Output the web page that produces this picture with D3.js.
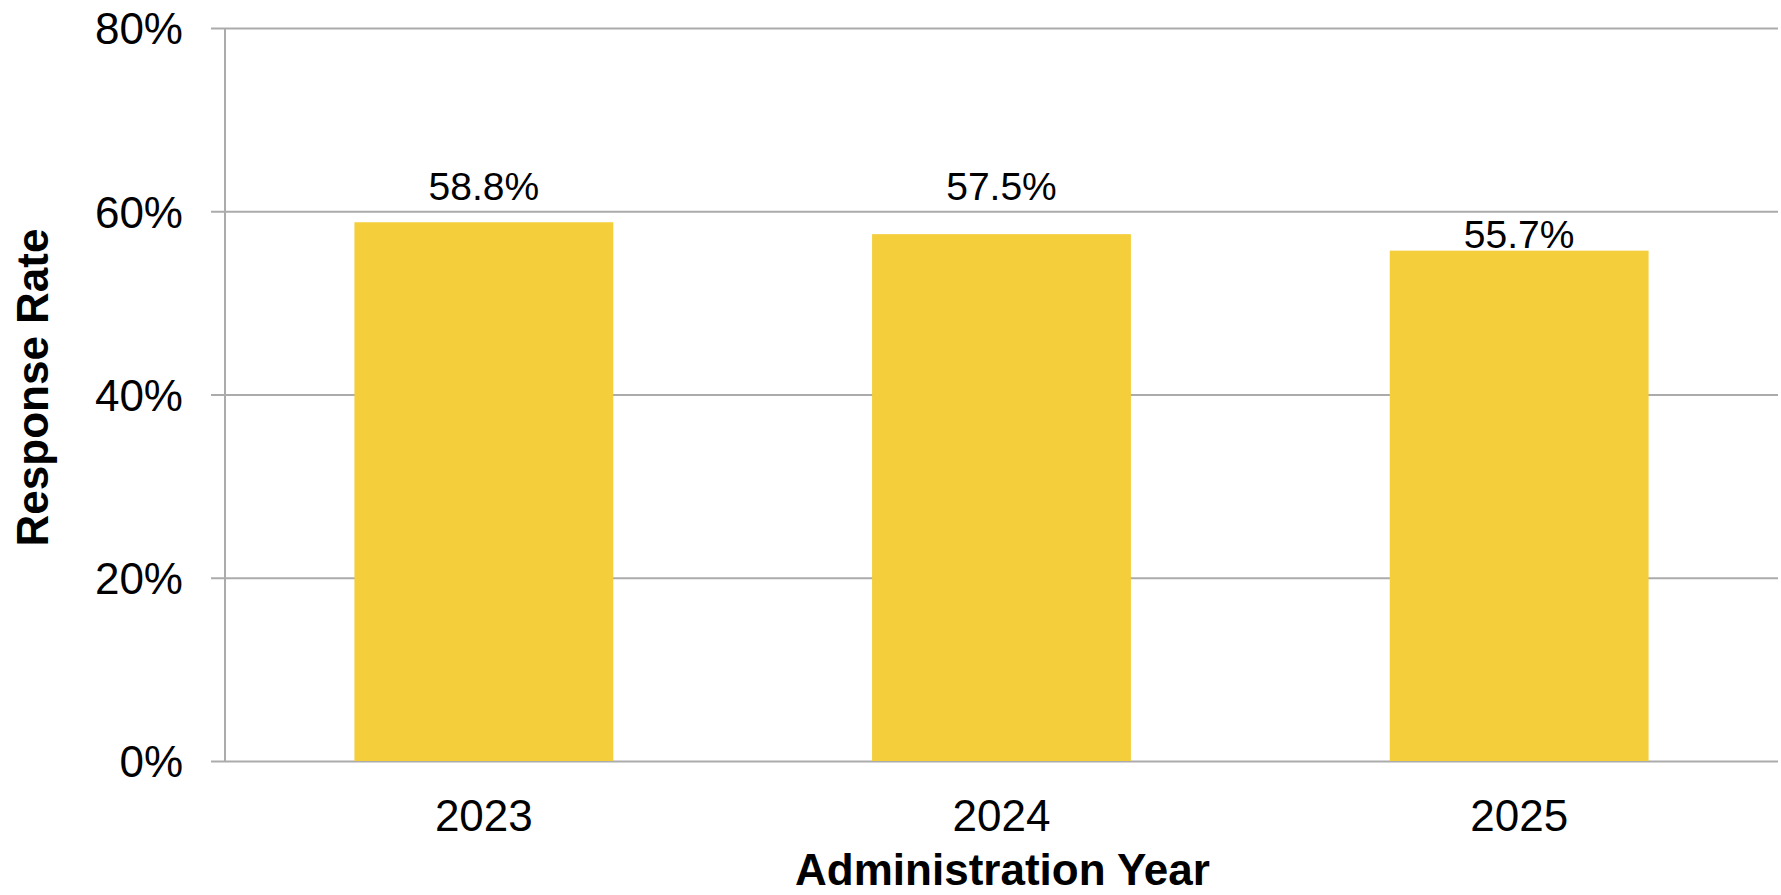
<!DOCTYPE html>
<html>
<head>
<meta charset="utf-8">
<script src="https://cdn.jsdelivr.net/npm/d3@7"></script>
<style>
  html, body { margin: 0; padding: 0; background: #fff; }
  svg { display: block; font-family: "Liberation Sans", Arial, sans-serif; }
</style>
</head>
<body>
<svg id="chart" width="1781" height="895"></svg>
<script>
// Response rate by administration year
const years = ["2023", "2024", "2025"];
const rates = [58.8, 57.5, 55.7];
const yTicks = [0, 20, 40, 60, 80];
const xTitle = "Administration Year";
const yTitle = "Response Rate";

const W = 1781, H = 895;
const margin = { top: 28, right: 3, bottom: 134, left: 225 };
const plotW = W - margin.left - margin.right;
const plotH = H - margin.top - margin.bottom;

const svg = d3.select("#chart");
const g = svg.append("g").attr("transform", `translate(${margin.left},${margin.top})`);

const x = d3.scaleBand()
  .domain(years)
  .range([0, plotW])
  .paddingInner(0.5)
  .paddingOuter(0.25);

const y = d3.scaleLinear().domain([0, 80]).range([plotH, 0]);

const gridColor = "#ABABAB";

// Horizontal gridlines with short tick stubs left of the axis
const yAxis = d3.axisLeft(y)
  .tickValues(yTicks)
  .tickSize(-plotW)
  .tickFormat(d => d + "%");
const yg = g.append("g").call(yAxis);
yg.select(".domain").remove();
yg.selectAll(".tick line")
  .attr("x1", -14)
  .attr("stroke", gridColor)
  .attr("stroke-width", 2);
yg.selectAll(".tick text")
  .attr("x", -42)
  .attr("dy", "0.36em")
  .attr("fill", "#000")
  .style("font-size", "44px");

// Bars
g.selectAll("rect.bar")
  .data(years)
  .join("rect")
  .attr("class", "bar")
  .attr("x", d => x(d))
  .attr("width", x.bandwidth())
  .attr("y", (d, i) => y(rates[i]))
  .attr("height", (d, i) => plotH - y(rates[i]))
  .attr("fill", "#F4CE3B");

// Vertical axis line
g.append("line")
  .attr("x1", 0).attr("x2", 0)
  .attr("y1", 0).attr("y2", plotH)
  .attr("stroke", gridColor)
  .attr("stroke-width", 2);

// Category axis
const xAxis = d3.axisBottom(x).tickSize(0).tickPadding(0);
const xg = g.append("g").attr("transform", `translate(0,${plotH})`).call(xAxis);
xg.select(".domain").remove();
xg.selectAll(".tick text")
  .attr("y", 70)
  .attr("dy", 0)
  .attr("fill", "#000")
  .style("font-size", "44px");

// Value labels: sit just above the bar, lifted clear of any gridline they would cross
const labelSize = 39, capH = labelSize * 0.72;
g.selectAll("text.value")
  .data(years)
  .join("text")
  .attr("class", "value")
  .attr("text-anchor", "middle")
  .attr("x", d => x(d) + x.bandwidth() / 2)
  .attr("y", (d, i) => {
    let base = y(rates[i]) - 3;
    yTicks.forEach(t => {
      const gy = y(t);
      if (gy > base - capH - 2 && gy < base + 4) base = gy - 11;
    });
    return base;
  })
  .style("font-size", labelSize + "px")
  .attr("fill", "#000")
  .text((d, i) => rates[i].toFixed(1) + "%");

// Axis titles
svg.append("text")
  .attr("x", margin.left + plotW / 2 + 1)
  .attr("y", 885)
  .attr("text-anchor", "middle")
  .style("font-size", "44px")
  .style("font-weight", "bold")
  .text(xTitle);

svg.append("text")
  .attr("transform", `translate(48,${margin.top + plotH / 2 - 7}) rotate(-90)`)
  .attr("text-anchor", "middle")
  .style("font-size", "44px")
  .style("font-weight", "bold")
  .text(yTitle);
</script>
</body>
</html>
